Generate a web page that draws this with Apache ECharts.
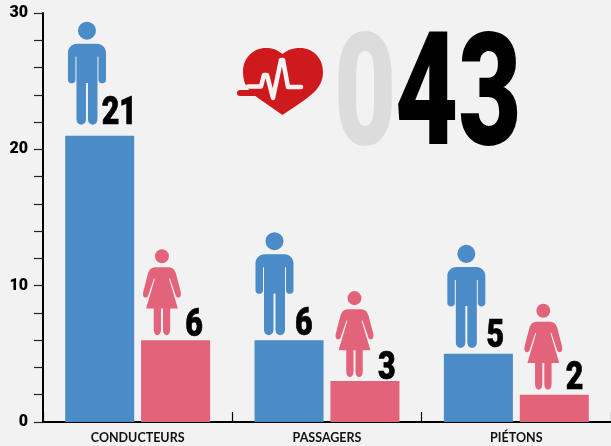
<!DOCTYPE html>
<html><head><meta charset="utf-8">
<style>html,body{margin:0;padding:0;background:#f2f2f2}#c{width:611px;height:446px}</style>
<script src="https://cdn.jsdelivr.net/npm/echarts@6/dist/echarts.min.js"></script>
</head><body><div id="c"></div>
<script>
const categories = ['CONDUCTEURS','PASSAGERS','PIÉTONS'];
const hommes = [21,6,5];
const femmes = [6,3,2];
const total = ['0','43'];
const BLUE='#4b8bc8', PINK='#e2637a', BG='#f2f2f2';
const MAN='M19 0a9 9 0 1 1-.01 0zM9 22H29C34 22 38 26 38 31V58C38 62.5 30.5 62.5 30.5 58V35H29.5V97C29.5 104.5 20 104.5 20 97V61H18V97C18 104.5 8.5 104.5 8.5 97V35H7.5V58C7.5 62.5 0 62.5 0 58V31C0 26 4 22 9 22z';
const WOMAN='M19 0a7 7 0 1 1-.01 0zM13 18H25C29.5 18 31.5 20 33 24L38 43C39 49 33.5 50 32.5 45L27 29L26.2 29.5L35 59H27.3V80C27.3 87.5 20 87.5 20 80V59H18V80C18 87.5 10.7 87.5 10.7 80V59H3L11.8 29.5L11 29L5.5 45C4.5 50 -1 49 0 43L5 24C6.5 20 8.5 18 13 18z';
const HEART='M39.5 6C45 1.5 51 0 57 0C70 0 80 10 80 24C80 42 66 49 39.5 67L15 50C5 43 0 36 0 24C0 10 10 0 23 0C29 0 34 1.5 39.5 6Z';
const chart = echarts.init(document.getElementById('c'),null,{renderer:'canvas'});
function figures(color,path,w,h,dxs,gaps,lxs,lgaps,series){
  return {type:'custom',coordinateSystem:'cartesian2d',z:5,silent:true,
    encode:{x:0,y:1},
    data:series.map((v,i)=>[i,v,i]),
    renderItem(params,api){
      const i=api.value(2),p=api.coord([i,api.value(1)]);
      return {type:'group',children:[
        {type:'path',shape:{pathData:path,x:p[0]+dxs[i]-w/2,y:p[1]-gaps[i]-h,width:w,height:h,layout:'cover'},style:{fill:color}},
        {type:'text',x:p[0]+lxs[i],y:p[1]-lgaps[i]-28,scaleX:0.8,style:{text:String(series[i]),align:'right',verticalAlign:'top',fill:'#000',stroke:'#000',lineWidth:0.7,font:'900 38px Roboto'}}
      ]};
    }};
}
const decoration={type:'custom',coordinateSystem:'none',z:4,silent:true,data:[0],
  renderItem(){
    return {type:'group',children:[
      {type:'path',shape:{pathData:HEART,x:243,y:48,width:80,height:67,layout:'cover'},style:{fill:'#cf1a1d'}},
      {type:'polyline',shape:{points:[[248,86.5],[261,86.5],[264,75],[267,75],[273,98],[281,60],[283,60],[288,87],[301,87]]},style:{stroke:BG,fill:null,lineWidth:4.5,lineCap:'round',lineJoin:'round'}},
      {type:'line',shape:{x1:240,y1:93,x2:262,y2:93},style:{stroke:'#cf1a1d',lineWidth:6,lineCap:'round'}},
      {type:'text',x:334,y:26,scaleX:0.685,style:{text:total[0],fill:'#dcdcdc',font:'900 157px Roboto',verticalAlign:'top'}},
      {type:'text',x:395,y:26,scaleX:0.695,style:{text:total[1],fill:'#000',font:'900 157px Roboto',verticalAlign:'top'}}
    ]};
  }};
chart.setOption({
  animation:false,
  backgroundColor:BG,
  grid:{left:43,width:569.6,top:13,bottom:24},
  xAxis:{type:'category',data:categories,
    axisLine:{lineStyle:{color:'#000',width:2}},
    axisTick:{show:true,inside:true,length:10,lineStyle:{color:'#000',width:1.2}},
    axisLabel:{color:'#111',fontFamily:'Lato',fontWeight:'bold',fontSize:12.5,margin:9}},
  yAxis:{type:'value',min:0,max:30,interval:10,
    axisLine:{show:true,lineStyle:{color:'#000',width:2}},
    axisTick:{show:true,length:9,lineStyle:{color:'#222',width:1.2}},
    minorTick:{show:true,splitNumber:5,length:9,lineStyle:{color:'#222',width:1.2}},
    splitLine:{show:false},minorSplitLine:{show:false},
    axisLabel:{color:'#000',fontFamily:'Roboto',fontWeight:900,fontSize:16,margin:15}},
  series:[
    {type:'bar',name:'Hommes',data:hommes,barWidth:69,barGap:'10%',itemStyle:{color:BLUE}},
    {type:'bar',name:'Femmes',data:femmes,barWidth:69,barGap:'10%',itemStyle:{color:PINK}},
    figures(BLUE,MAN,38,103,[-50.7,-52.5,-50],[11,5,6],[-0.7,-14.5,-12.3],[12,6,7],hommes),
    figures(PINK,WOMAN,38,86,[24.3,27.5,27],[5,4,5],[65.3,68.5,67],[5,3,6],femmes),
    decoration
  ]
});
</script></body></html>
